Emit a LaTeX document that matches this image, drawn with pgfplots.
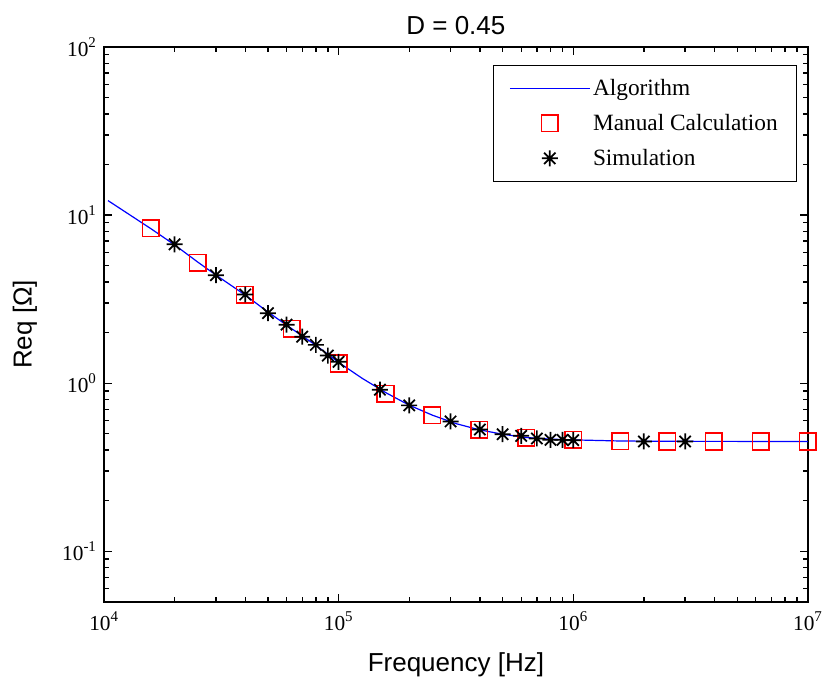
\documentclass[border=0pt]{standalone}
\usepackage{fontspec}
\setmainfont{Liberation Serif}
\newfontfamily\arialfont{Liberation Sans}
\usepackage{pgfplots}
\pgfplotsset{compat=1.18}
\definecolor{mred}{RGB}{255,0,0}
\definecolor{mblue}{RGB}{0,0,255}
\pgfdeclareplotmark{mstar}{%
  \pgfpathmoveto{\pgfqpoint{-\pgfplotmarksize}{0pt}}\pgfpathlineto{\pgfqpoint{\pgfplotmarksize}{0pt}}%
  \pgfpathmoveto{\pgfqpoint{0pt}{-\pgfplotmarksize}}\pgfpathlineto{\pgfqpoint{0pt}{\pgfplotmarksize}}%
  \pgfpathmoveto{\pgfqpoint{-0.707\pgfplotmarksize}{-0.707\pgfplotmarksize}}\pgfpathlineto{\pgfqpoint{0.707\pgfplotmarksize}{0.707\pgfplotmarksize}}%
  \pgfpathmoveto{\pgfqpoint{-0.707\pgfplotmarksize}{0.707\pgfplotmarksize}}\pgfpathlineto{\pgfqpoint{0.707\pgfplotmarksize}{-0.707\pgfplotmarksize}}%
  \pgfusepathqstroke}
\pgfplotsset{
  lineleg/.style={legend image code/.code={\draw[##1] (0pt,0pt) -- (60pt,0pt);}},
  markleg/.style={legend image code/.code={\draw[mark repeat=2,mark phase=2,##1] plot coordinates {(0pt,0pt) (30pt,0pt) (60pt,0pt)};}},
}
\begin{document}
\begin{tikzpicture}
\begin{axis}[
  scale only axis, width=528pt, height=416.25pt,
  xmode=log, ymode=log,
  xmin=1e4, xmax=1e7, ymin=0.05, ymax=100,
  axis line style={line width=1.1pt},
  tick align=inside, tick pos=both,
  major tick length=6pt, minor tick length=3.5pt,
  every tick/.style={line width=1pt},
  xtick={1e4,1e5,1e6,1e7},
  xticklabels={10\textsuperscript{4},10\textsuperscript{5},10\textsuperscript{6},10\textsuperscript{7}},
  minor xtick={2e4,3e4,4e4,5e4,6e4,7e4,8e4,9e4,2e5,3e5,4e5,5e5,6e5,7e5,8e5,9e5,2e6,3e6,4e6,5e6,6e6,7e6,8e6,9e6},
  ytick={0.1,1,10,100},
  yticklabels={10\textsuperscript{-1},10\textsuperscript{0},10\textsuperscript{1},10\textsuperscript{2}},
  minor ytick={0.06,0.07,0.08,0.09,0.2,0.3,0.4,0.5,0.6,0.7,0.8,0.9,2,3,4,5,6,7,8,9,20,30,40,50,60,70,80,90},
  tick label style={font=\fontsize{16}{18}\selectfont},
  xticklabel style={yshift=-4pt},
  yticklabel style={xshift=-2pt},
  xlabel={Frequency [Hz]},
  ylabel={Req [Ω]},
  xlabel style={font=\arialfont\fontsize{19.5}{22}\selectfont, yshift=-10pt},
  ylabel style={font=\arialfont\fontsize{19.5}{22}\selectfont, yshift=12pt},
  title={D = 0.45},
  title style={font=\arialfont\fontsize{19.5}{22}\selectfont, yshift=0pt},
  legend style={at={(1,1)}, anchor=north east, xshift=-8.25pt, yshift=-13.5pt,
    draw=black, line width=0.8pt, font=\fontsize{17.5}{20}\selectfont,
    inner xsep=12pt, inner ysep=8.5pt, row sep=8.5pt, cells={anchor=west},
    /tikz/column 2/.style={column sep=5pt}},
  legend cell align=left,
]
\addplot[mblue, line width=0.9pt, mark=none, lineleg]
  coordinates {
  (1.04e4,12.2) (1.585e4,8.3) (2e4,6.65) (2.512e4,5.25) (3e4,4.4) (3.981e4,3.36)
  (5e4,2.65) (6.31e4,2.11) (8e4,1.68) (1e5,1.33) (1.259e5,1.07) (1.585e5,0.88)
  (2e5,0.74) (2.512e5,0.645) (3.162e5,0.575) (3.981e5,0.528) (5e5,0.497)
  (6.31e5,0.475) (7.943e5,0.465) (1e6,0.46) (1.585e6,0.453) (2.512e6,0.451) (1e7,0.45)
  };
\addlegendentry{Algorithm}
\addplot[mred, only marks, mark=square, mark size=6.2pt, line width=1.15pt, markleg]
  coordinates {
  (1.585e4,8.36) (2.512e4,5.21) (3.981e4,3.36) (6.31e4,2.11) (1e5,1.31)
  (1.585e5,0.867) (2.512e5,0.643) (3.981e5,0.528) (6.31e5,0.473) (1e6,0.46)
  (1.585e6,0.452) (2.512e6,0.45) (3.981e6,0.45) (6.31e6,0.45) (1e7,0.45)
  };
\addlegendentry{Manual Calculation}
\addplot[black, only marks, mark=mstar, mark size=6pt, line width=1.3pt, markleg]
  coordinates {
  (2e4,6.7) (3e4,4.39) (4e4,3.37) (5e4,2.61) (6e4,2.23) (7e4,1.89) (8e4,1.69)
  (9e4,1.46) (1e5,1.34) (1.5e5,0.915) (2e5,0.738) (3e5,0.592) (4e5,0.53)
  (5e5,0.497) (6e5,0.486) (7e5,0.469) (8e5,0.46) (9e5,0.46) (1e6,0.458)
  (2e6,0.45) (3e6,0.45)
  };
\addlegendentry{Simulation}
\end{axis}
\path ([xshift=-78pt,yshift=-60pt]current axis.south west) rectangle ([xshift=14.25pt,yshift=35.25pt]current axis.north east);
\end{tikzpicture}
\end{document}
